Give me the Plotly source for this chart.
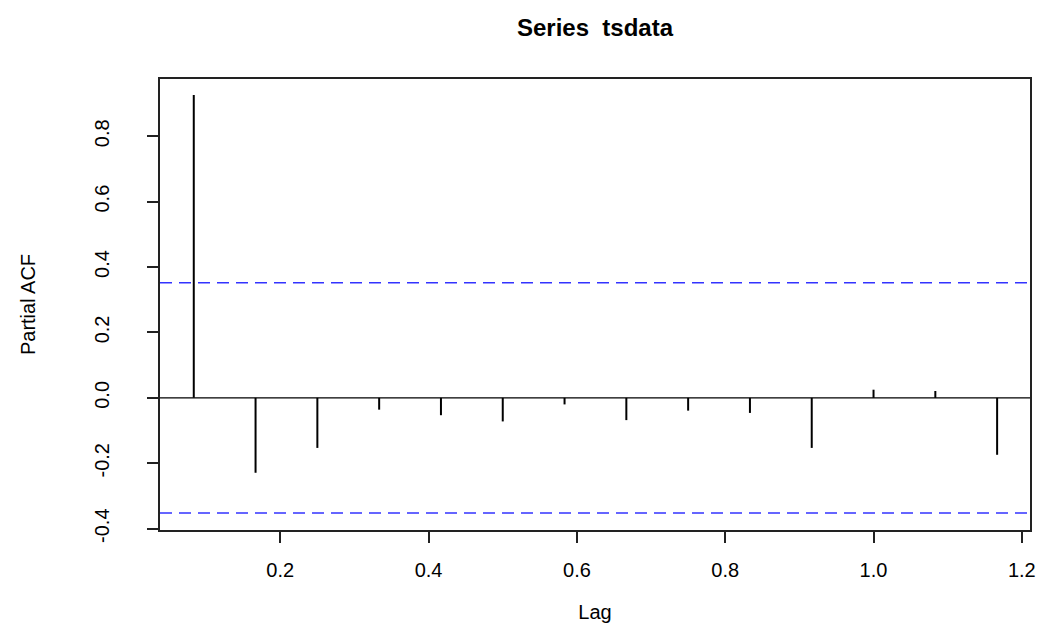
import plotly.graph_objects as go

# Data (lags in years, monthly series)
lags = [1/12, 2/12, 3/12, 4/12, 5/12, 6/12, 7/12, 8/12, 9/12, 10/12, 11/12, 12/12, 13/12, 14/12]
pacf = [0.926, -0.229, -0.153, -0.036, -0.053, -0.072, -0.020, -0.068, -0.039, -0.046, -0.153, 0.025, 0.021, -0.174]
clim = 0.352
x_ticks = [0.2, 0.4, 0.6, 0.8, 1.0, 1.2]
y_ticks = [-0.4, -0.2, 0.0, 0.2, 0.4, 0.6, 0.8]
x_range = [0.0378, 1.211]
y_range = [-0.404, 0.975]

seg_x, seg_y = [], []
for lg, v in zip(lags, pacf):
    seg_x += [lg, lg, None]
    seg_y += [0, v, None]

FONT = "Liberation Sans, Arial, sans-serif"

fig = go.Figure()
# zero line
fig.add_trace(go.Scatter(x=x_range, y=[0, 0], mode="lines",
                         line=dict(color="black", width=1.3), hoverinfo="skip", showlegend=False))
# confidence bounds
for c in (clim, -clim):
    fig.add_trace(go.Scatter(x=x_range, y=[c, c], mode="lines",
                             line=dict(color="#3333ff", width=1.3, dash="12px,7px"),
                             hoverinfo="skip", showlegend=False))
# PACF spikes
fig.add_trace(go.Scatter(x=seg_x, y=seg_y, mode="lines",
                         line=dict(color="black", width=2), showlegend=False))

fig.update_layout(
    width=1045, height=623,
    paper_bgcolor="white", plot_bgcolor="white",
    margin=dict(l=160, r=15, t=79, b=93, autoexpand=False),
    title=dict(text="<b>Series  tsdata</b>", x=0.5, xref="paper", y=1 - 28/623, yref="container",
               xanchor="center", yanchor="middle", font=dict(family=FONT, size=24, color="black")),
    font=dict(family=FONT, color="black"),
)
fig.update_xaxes(range=x_range, tickvals=x_ticks, ticktext=[f"{t:.1f}" for t in x_ticks],
                 automargin=False,
                 showgrid=False, zeroline=False, showline=True, linecolor="#222", linewidth=1.5,
                 mirror=True, ticks="outside", ticklen=11, tickwidth=1.5, tickcolor="#222",
                 tickfont=dict(size=20, family=FONT), ticklabelstandoff=10,
                 title=dict(text="Lag", font=dict(size=20, family=FONT), standoff=26))
fig.update_yaxes(range=y_range, tickvals=y_ticks, ticktext=[f"{t:.1f}" for t in y_ticks],
                 automargin=False,
                 showgrid=False, zeroline=False, showline=True, linecolor="#222", linewidth=1.5,
                 mirror=True, ticks="outside", ticklen=11, tickwidth=1.5, tickcolor="#222",
                 tickangle=-90, tickfont=dict(size=20, family=FONT), ticklabelstandoff=30,
                 title=dict(text="Partial ACF", font=dict(size=20, family=FONT), standoff=50))

fig.write_html("out.html")
